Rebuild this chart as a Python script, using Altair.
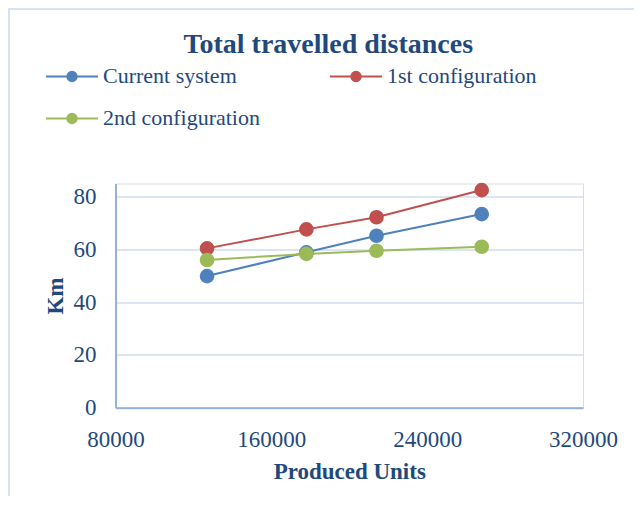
import altair as alt
import pandas as pd

series = ["Current system", "1st configuration", "2nd configuration"]
units = [127000, 178000, 214000, 268000]
current = [49.9, 58.9, 65.2, 73.4]
first = [60.4, 67.6, 72.2, 82.5]
second = [56.0, 58.3, 59.5, 61.0]
colors = ["#4F81BD", "#C0504D", "#9BBB59"]
x_ticks = [80000, 160000, 240000, 320000]
y_ticks = [0, 20, 40, 60, 80]

rows = []
for name, col, vals in zip(series, colors, [current, first, second]):
    for u, v in zip(units, vals):
        rows.append({"series": name, "col": col, "units": u, "km": v})
df = pd.DataFrame(rows)

FONT = "Liberation Serif"
TXT = "#1F497D"
W, H = 467.5, 224.2

color_scale = alt.Scale(domain=series, range=colors)


def ring(r):
    return f"M{r},0A{r},{r},0,1,1,-{r},0A{r},{r},0,1,1,{r},0"


SYM = "M-1,0H1" + ring(0.18) + ring(0.11) + ring(0.045) + ring(0.01)
legend = alt.Legend(
    title=None, orient="none", legendX=-70.5, legendY=-134, columns=2,
    direction="horizontal",
    columnPadding=65, rowPadding=4, symbolType=SYM, symbolSize=2704,
    symbolStrokeWidth=2, labelFont=FONT, labelFontSize=22, labelColor=TXT,
    labelOffset=4, labelLimit=0, padding=0,
)

x_enc = alt.X(
    "units:Q",
    scale=alt.Scale(domain=[80000, 320000], nice=False, zero=False),
    axis=alt.Axis(
        values=x_ticks, format="d", grid=False, ticks=False, tickSize=0,
        labelPadding=39, labelBaseline="alphabetic", labelFlush=False,
        labelOverlap=False, labelFont=FONT, labelFontSize=23, labelColor=TXT,
        domainColor="#95B3D7", domainWidth=2,
        title="Produced Units", titleY=71, titleBaseline="alphabetic",
        titleFont=FONT, titleFontSize=23, titleFontWeight="bold", titleColor=TXT,
    ),
)
y_enc = alt.Y(
    "km:Q",
    scale=alt.Scale(domain=[0, 85], nice=False),
    axis=alt.Axis(
        values=y_ticks, grid=True, gridColor="#CFDDF0", gridWidth=1.5,
        ticks=False, tickSize=0, labelPadding=19.5, labelFont=FONT,
        labelFontSize=23, labelColor=TXT, domainColor="#95B3D7", domainWidth=2,
        title="Km", titleX=-53.5, titleY=H / 2, titleBaseline="alphabetic",
        titleFont=FONT, titleFontSize=23, titleFontWeight="bold", titleColor=TXT,
    ),
)

border = alt.Chart(pd.DataFrame({"k": [0]})).mark_rect(
    fill="transparent", stroke="#D6E3F3", strokeWidth=2
).encode(
    x=alt.value(-106.5), y=alt.value(-174.5), x2=alt.value(700), y2=alt.value(500)
)

lines = alt.Chart(df).mark_line(strokeWidth=2).encode(
    x=x_enc, y=y_enc,
    stroke=alt.Stroke("series:N", scale=color_scale, legend=legend),
)

points = alt.Chart(df).mark_point(filled=True, size=160, opacity=1, strokeWidth=2).encode(
    x=x_enc, y=y_enc,
    fill=alt.Fill("col:N", scale=None),
    stroke=alt.Stroke("col:N", scale=None),
)

chart = alt.layer(border, lines, points).properties(
    width=W, height=H,
    padding={"left": 107.5, "top": 175.5, "right": 51, "bottom": 88},
    autosize=alt.AutoSizeParams(type="none"),
    title=alt.Title(
        "Total travelled distances", font=FONT, fontSize=28, fontWeight="bold",
        color=TXT, anchor="middle", baseline="alphabetic", offset=0, dx=-21, dy=73,
    ),
).configure_view(stroke=None).configure(font=FONT)

chart.save("out.html", embed_options={"renderer": "svg", "actions": False})
